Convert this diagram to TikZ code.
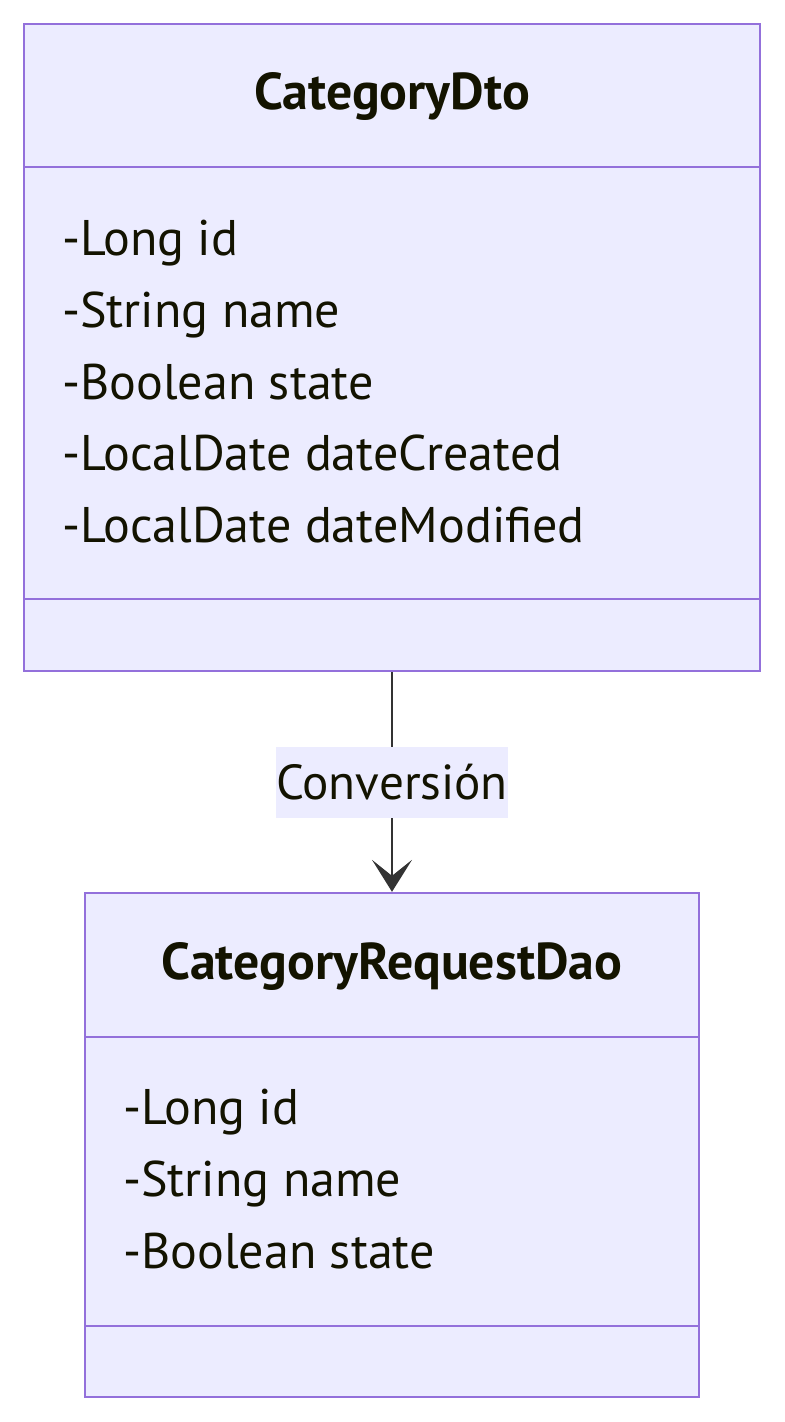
\documentclass[tikz,border=0pt]{standalone}
\usepackage{fontspec}
\setmainfont{PT Sans}
\usepackage{xcolor}
\usetikzlibrary{arrows.meta,positioning}

\definecolor{classfill}{HTML}{ECECFF}
\definecolor{classline}{HTML}{9370DB}
\definecolor{edgeline}{HTML}{333333}
\definecolor{textcol}{HTML}{131300}

\tikzset{
    classbox/.style={draw=classline, fill=classfill, line width=1.4pt, rectangle, inner sep=0pt},
    classdiv/.style={draw=classline, line width=1.4pt},
    classtitle/.style={font=\fontsize{29.5}{34}\selectfont\bfseries, text=textcol},
    member/.style={font=\fontsize{28.5}{34}\selectfont, text=textcol, anchor=west, inner sep=0pt, text height=0.7em, text depth=0.2em, yshift=-0.22cm},
    edgelabel/.style={fill=classfill, font=\fontsize{28}{34}\selectfont, text=textcol, minimum width=4.64cm, minimum height=1.42cm, inner sep=0pt}
}

\begin{document}
\begin{tikzpicture}[x=0.02cm, y=-0.02cm]
        \useasboundingbox (0,0) rectangle (784,1422);

        % Class 1
        \node[classbox, minimum width=14.72cm, minimum height=12.94cm] (dto) at (392,347.5) {};
        \draw[classdiv] (24,167) -- (760,167);
        \draw[classdiv] (24,599) -- (760,599);
        \node[classtitle] (dtotitle) at (392,96) {CategoryDto};
        \node[member] (dtoid) at (62,240) {-Long id};
        \node[member] (dtoname) at (62,312) {-String name};
        \node[member] (dtostate) at (62,384) {-Boolean state};
        \node[member] (dtocreated) at (62,455) {-LocalDate dateCreated};
        \node[member] (dtomodified) at (62,527) {-LocalDate dateModified};

        % Class 2
        \node[classbox, minimum width=12.28cm, minimum height=10.08cm] (dao) at (392,1145) {};
        \draw[classdiv] (85,1037) -- (699,1037);
        \draw[classdiv] (85,1326) -- (699,1326);
        \node[classtitle] (daotitle) at (392,966) {CategoryRequestDao};
        \node[member] (daoid) at (123,1109) {-Long id};
        \node[member] (daoname) at (123,1181) {-String name};
        \node[member] (daostate) at (123,1253) {-Boolean state};

        % Relation
        \draw[edgeline, line width=1.2pt, -{Stealth[length=0.64cm, width=0.8cm, inset=0.32cm]}] (dto.south) -- (dao.north);
        \node[edgelabel] (conv) at (392,782) {Conversión};
    \end{tikzpicture}
\end{document}
